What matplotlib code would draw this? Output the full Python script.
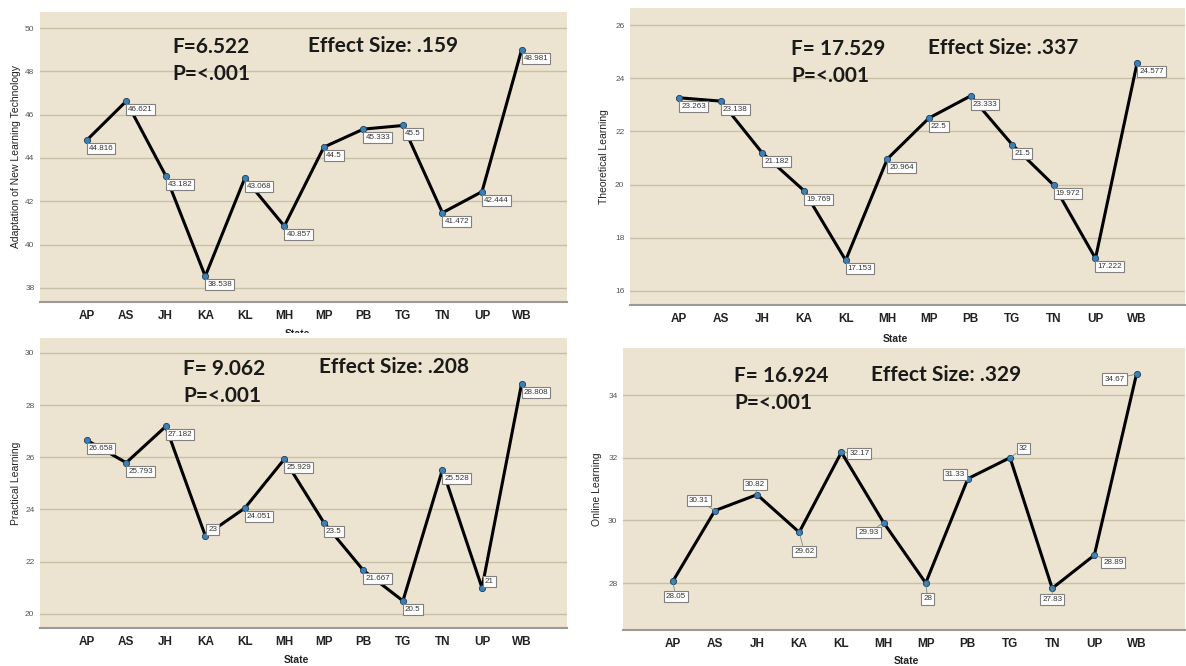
#!/usr/bin/env python3
import matplotlib
matplotlib.use('Agg')
import matplotlib.pyplot as plt
from matplotlib.patches import Rectangle

# categories on the x axis (states)
states = ['AP', 'AS', 'JH', 'KA', 'KL', 'MH', 'MP', 'PB', 'TG', 'TN', 'UP', 'WB']

# mean scores per state, one list per panel
adaptation = [44.816, 46.621, 43.182, 38.538, 43.068, 40.857, 44.5, 45.333, 45.5, 41.472, 42.444, 48.981]
theoretical = [23.263, 23.138, 21.182, 19.769, 17.153, 20.964, 22.5, 23.333, 21.5, 19.972, 17.222, 24.577]
practical = [26.658, 25.793, 27.182, 23, 24.051, 25.929, 23.5, 21.667, 20.5, 25.528, 21, 28.808]
online = [28.05, 30.31, 30.82, 29.62, 32.17, 29.93, 28, 31.33, 32, 27.83, 28.89, 34.67]

# data label text, as printed by SPSS
adaptation_labels = ['44.816', '46.621', '43.182', '38.538', '43.068', '40.857', '44.5', '45.333', '45.5', '41.472', '42.444', '48.981']
theoretical_labels = ['23.263', '23.138', '21.182', '19.769', '17.153', '20.964', '22.5', '23.333', '21.5', '19.972', '17.222', '24.577']
practical_labels = ['26.658', '25.793', '27.182', '23', '24.051', '25.929', '23.5', '21.667', '20.5', '25.528', '21', '28.808']
online_labels = ['28.05', '30.31', '30.82', '29.62', '32.17', '29.93', '28', '31.33', '32', '27.83', '28.89', '34.67']

y_titles = ['Adaptation of New Learning Technology', 'Theoretical Learning',
	'Practical Learning', 'Online Learning']
f_texts = ['F=6.522', 'F= 17.529', 'F= 9.062', 'F= 16.924']
effect_texts = ['Effect Size: .159', 'Effect Size: .337', 'Effect Size: .208', 'Effect Size: .329']

W, H = 1186, 666
BG = '#ECE4D0'
GRID = '#C9C0A8'


def px_rect(left, top, right, bottom):
	""" pixel box -> figure fraction rect """
	return [left / W, 1 - bottom / H, (right - left) / W, (bottom - top) / H]


def draw_panel(fig, rect, values, labels, ytitle, ylim, yticks, ftext, etext,
		ftext_xy, etext_xy, label_offsets, leader=False, xlabel_xy=(0.49, -0.095)):
	ax = fig.add_axes(rect)
	ax.set_facecolor(BG)
	x = list(range(len(states)))
	ax.plot(x, values, color='black', lw=2.2, zorder=3,
		marker='o', ms=4.5, mfc='#3A80B8', mec='#1D3D57', mew=0.6)
	ax.set_xlim(-1.18, 12.15)
	ax.set_ylim(*ylim)
	ax.set_yticks(yticks)
	ax.set_yticklabels([str(t) for t in yticks], fontsize=6, color='#555555')
	ax.set_xticks(x)
	ax.set_xticklabels(states, fontsize=8.5, fontweight='bold', color='#222222')
	ax.tick_params(length=0, pad=6)
	ax.tick_params(axis='y', pad=4)
	ax.grid(axis='y', color=GRID, lw=1.0, zorder=0)
	ax.set_axisbelow(True)
	for side in ('top', 'right', 'left'):
		ax.spines[side].set_visible(False)
	ax.spines['bottom'].set_color('#9A9A9A')
	ax.spines['bottom'].set_linewidth(1.5)
	ax.set_ylabel(ytitle, fontsize=7.5, color='#222222')
	ax.yaxis.set_label_coords(-0.037, 0.5)
	ax.set_xlabel('State', fontsize=7.5, fontweight='bold', color='#222222')
	ax.xaxis.set_label_coords(*xlabel_xy)

	# data labels in small white boxes
	for i, (v, lab) in enumerate(zip(values, labels)):
		dx, dy, ha, va = label_offsets[i]
		kw = {}
		if leader:
			kw['arrowprops'] = dict(arrowstyle='-', color='#6E8F8C', lw=0.6, shrinkA=0, shrinkB=0)
		ax.annotate(lab, (i, v), xytext=(dx, dy), textcoords='offset pixels',
			ha=ha, va=va, fontsize=5.8, color='#333333', zorder=5,
			bbox=dict(boxstyle='square,pad=0.25', fc='white', ec='#808080', lw=0.8),
			**kw)

	# statistics text
	stat_font = dict(fontsize=15, fontweight='bold', family='Lato', color='#1A1A1A')
	fig.text(ftext_xy[0] / W, 1 - ftext_xy[1] / H, ftext, va='center', ha='left', **stat_font)
	fig.text(ftext_xy[0] / W, 1 - (ftext_xy[1] + 27) / H, 'P=<.001', va='center', ha='left', **stat_font)
	fig.text(etext_xy[0] / W, 1 - etext_xy[1] / H, etext, va='center', ha='left', **stat_font)
	return ax


if __name__ == '__main__':
	plt.rcParams['font.family'] = ['Liberation Sans', 'DejaVu Sans']
	fig = plt.figure(figsize=(W / 100, H / 100), dpi=100)
	fig.patch.set_facecolor('white')

	lower_right = [(2, -5, 'left', 'top')] * 12

	draw_panel(fig, px_rect(40, 12, 567, 302), adaptation, adaptation_labels, y_titles[0],
		(37.35, 50.74), [38, 40, 42, 44, 46, 48, 50], f_texts[0], effect_texts[0],
		(172, 47), (308, 46), lower_right, xlabel_xy=(0.488, -0.093))

	draw_panel(fig, px_rect(630, 8, 1185, 305), theoretical, theoretical_labels, y_titles[1],
		(15.47, 26.64), [16, 18, 20, 22, 24, 26], f_texts[1], effect_texts[1],
		(791, 49), (928, 48), lower_right, xlabel_xy=(0.479, -0.098))

	practical_offsets = list(lower_right)
	practical_offsets[3] = (3, 3, 'left', 'bottom')
	practical_offsets[10] = (3, 3, 'left', 'bottom')
	draw_panel(fig, px_rect(40, 338, 567, 628), practical, practical_labels, y_titles[2],
		(19.46, 30.57), [20, 22, 24, 26, 28, 30], f_texts[2], effect_texts[2],
		(183, 369), (319, 367), practical_offsets, xlabel_xy=(0.486, -0.093))

	online_offsets = [
		(3, -15, 'center', 'center'), (-16, 10, 'center', 'center'),
		(-2, 10, 'center', 'center'), (5, -19, 'center', 'center'),
		(18, -1, 'center', 'center'), (-15, -10, 'center', 'center'),
		(2, -16, 'center', 'center'), (-13, 4, 'center', 'center'),
		(13, 9, 'center', 'center'), (0, -11, 'center', 'center'),
		(19, -7, 'center', 'center'), (-22, -5, 'center', 'center'),
	]
	draw_panel(fig, px_rect(623, 348, 1185, 630), online, online_labels, y_titles[3],
		(26.5, 35.5), [28, 30, 32, 34], f_texts[3], effect_texts[3],
		(734, 376), (871, 375), online_offsets, leader=True, xlabel_xy=(0.504, -0.092))

	# the lower-left picture overlaps the "State" title of the upper-left one
	fig.patches.append(Rectangle((0, 1 - 338 / H), 0.5, 5 / H, transform=fig.transFigure,
		facecolor='white', edgecolor='none', zorder=10))

	fig.savefig('out.png', dpi=100, facecolor='white')
